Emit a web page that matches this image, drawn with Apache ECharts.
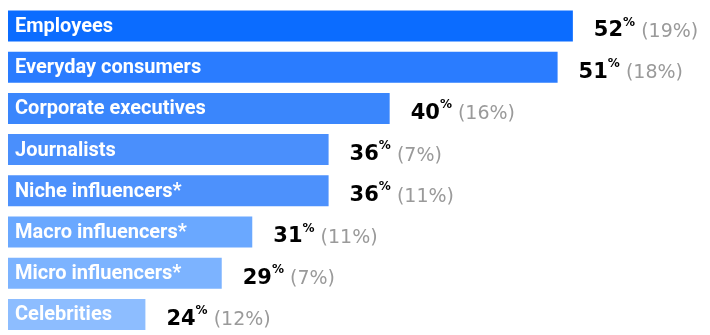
<!DOCTYPE html>
<html>
<head>
<meta charset="utf-8">
<script src="https://cdn.jsdelivr.net/npm/echarts@6/dist/echarts.min.js"></script>
<style>
  html, body { margin: 0; padding: 0; background: #ffffff; }
  #chart { width: 710px; height: 335px; }
</style>
</head>
<body>
<div id="chart"></div>
<script>
// Who audiences trust, share of respondents, with the year-earlier figure in brackets
const categories = [
  'Employees',
  'Everyday consumers',
  'Corporate executives',
  'Journalists',
  'Niche influencers*',
  'Macro influencers*',
  'Micro influencers*',
  'Celebrities'
];
const shares = [52, 51, 40, 36, 36, 31, 29, 24];
const priorShares = [19, 18, 16, 7, 11, 11, 7, 12];

// Bar fills, darkest at the top
const palette = ['#0b6cff', '#2a7cff', '#3a86fc', '#4a8ffc', '#4d91fc', '#6aa8ff', '#7cb3ff', '#8dbdff'];

const chart = echarts.init(document.getElementById('chart'), null, { renderer: 'canvas' });

chart.setOption({
  animation: false,
  grid: { left: 8, top: 5.4, width: 687, height: 335.2, containLabel: false },
  xAxis: {
    type: 'value',
    min: 15,
    max: 60,
    show: false
  },
  yAxis: {
    type: 'category',
    data: categories,
    inverse: true,
    show: false
  },
  series: [
    {
      name: 'share',
      type: 'bar',
      barWidth: 31,
      data: shares.map((v, i) => ({ value: v, itemStyle: { color: palette[i] } })),
      label: {
        show: true,
        position: 'insideLeft',
        distance: 7,
        offset: [0, 1],
        formatter: p => categories[p.dataIndex],
        color: '#ffffff',
        fontFamily: 'Roboto',
        fontWeight: 'bold',
        fontSize: 20,
        lineHeight: 24
      }
    },
    {
      name: 'value',
      type: 'bar',
      barWidth: 31,
      barGap: '-100%',
      silent: true,
      itemStyle: { color: 'rgba(0,0,0,0)' },
      data: shares,
      label: {
        show: true,
        position: 'right',
        distance: 21,
        offset: [0, 3],
        formatter: p => '{v|' + shares[p.dataIndex] + '}{p|%}{g| (' + priorShares[p.dataIndex] + '%)}',
        rich: {
          v: {
            fontFamily: 'DejaVu Sans',
            fontWeight: 'bold',
            fontSize: 21,
            lineHeight: 25,
            color: '#000000',
            verticalAlign: 'bottom'
          },
          p: {
            fontFamily: 'DejaVu Sans',
            fontWeight: 'bold',
            fontSize: 12,
            lineHeight: 12,
            color: '#000000',
            verticalAlign: 'top'
          },
          g: {
            fontFamily: 'DejaVu Sans',
            fontSize: 19,
            lineHeight: 24,
            color: '#9a9a9a',
            verticalAlign: 'bottom'
          }
        }
      }
    }
  ]
});
</script>
</body>
</html>
